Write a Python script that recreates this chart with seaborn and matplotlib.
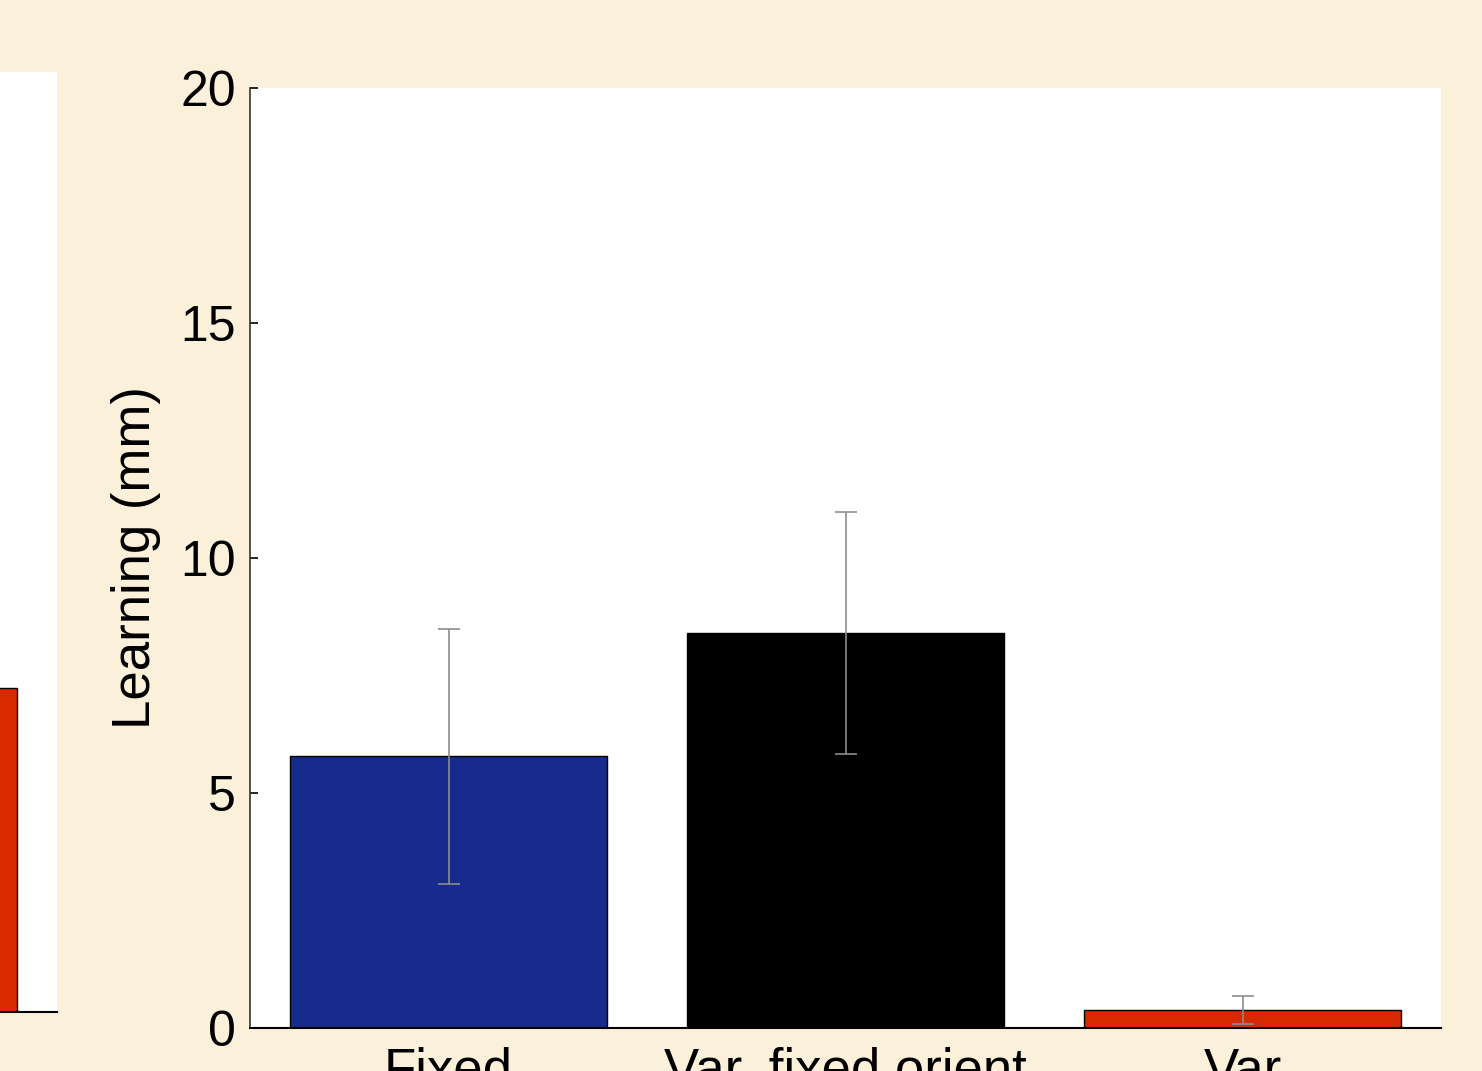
import matplotlib
matplotlib.use("Agg")
import matplotlib.pyplot as plt
import seaborn as sns
import pandas as pd

# Learning per training condition (mean and standard error)
conditions = ["Fixed", "Var. fixed orient", "Var"]
learning_mm = [5.78, 8.41, 0.38]
sem_mm = [2.72, 2.57, 0.30]
bar_colors = ["#172B8C", "#000000", "#D82A00"]

# Neighbouring panel, only its last bar shows at the left edge
side_conditions = ["Var"]
side_learning_mm = [6.9]
side_colors = ["#D82A00"]

y_ticks = [0, 5, 10, 15, 20]

sns.set_theme(style="ticks")
plt.rcParams["font.family"] = ["Liberation Sans", "DejaVu Sans"]
plt.rcParams["text.color"] = "black"
plt.rcParams["axes.labelcolor"] = "black"

W, H = 1482, 1071
fig = plt.figure(figsize=(W / 100, H / 100), dpi=100)
fig.patch.set_facecolor("#FBF1DB")

# main panel
ax = fig.add_axes([250 / W, 43 / H, 1191 / W, 940 / H])
df = pd.DataFrame({"condition": conditions, "learning": learning_mm})
sns.barplot(data=df, x="condition", y="learning", hue="condition",
            palette=bar_colors, saturation=1, legend=False, width=0.8,
            errorbar=None, edgecolor="black", linewidth=1.0, ax=ax)
ax.errorbar(range(len(conditions)), learning_mm, yerr=sem_mm, fmt="none",
            ecolor="#8C8C8C", elinewidth=1.2, capsize=8, capthick=1.2, zorder=5)
ax.set_facecolor("white")
ax.set_xlim(-0.5, 2.5)
ax.set_ylim(0, 20)
ax.set_yticks(y_ticks)
ax.set_xlabel("")
ax.set_ylabel("Learning (mm)", fontsize=38, color="black")
ax.yaxis.set_label_coords(-0.0745, 0.5)
ax.tick_params(axis="y", direction="in", length=6, width=1.2, pad=10,
               labelsize=36, colors="black")
ax.tick_params(axis="x", length=0, pad=13, labelsize=38, colors="black")
sns.despine(ax=ax)
ax.spines["left"].set_color("#333333")
ax.spines["left"].set_linewidth(1.2)
ax.spines["bottom"].set_color("black")
ax.spines["bottom"].set_linewidth(1.5)

# partial neighbouring panel on the left
ax2 = fig.add_axes([(57 - 1191) / W, 59 / H, 1191 / W, 940 / H])
df2 = pd.DataFrame({"condition": side_conditions, "learning": side_learning_mm})
sns.barplot(data=df2, x="condition", y="learning", hue="condition",
            palette=side_colors, saturation=1, legend=False, width=0.8,
            errorbar=None, edgecolor="black", linewidth=1.0, ax=ax2)
ax2.set_facecolor("white")
ax2.set_xlim(-2.5, 0.5)
ax2.set_ylim(0, 20)
ax2.set_xlabel("")
ax2.set_ylabel("")
ax2.set_xticks([])
ax2.set_yticks([])
sns.despine(ax=ax2, left=True)
ax2.spines["bottom"].set_color("black")
ax2.spines["bottom"].set_linewidth(1.5)

fig.savefig("out.png", dpi=100, facecolor=fig.get_facecolor())
